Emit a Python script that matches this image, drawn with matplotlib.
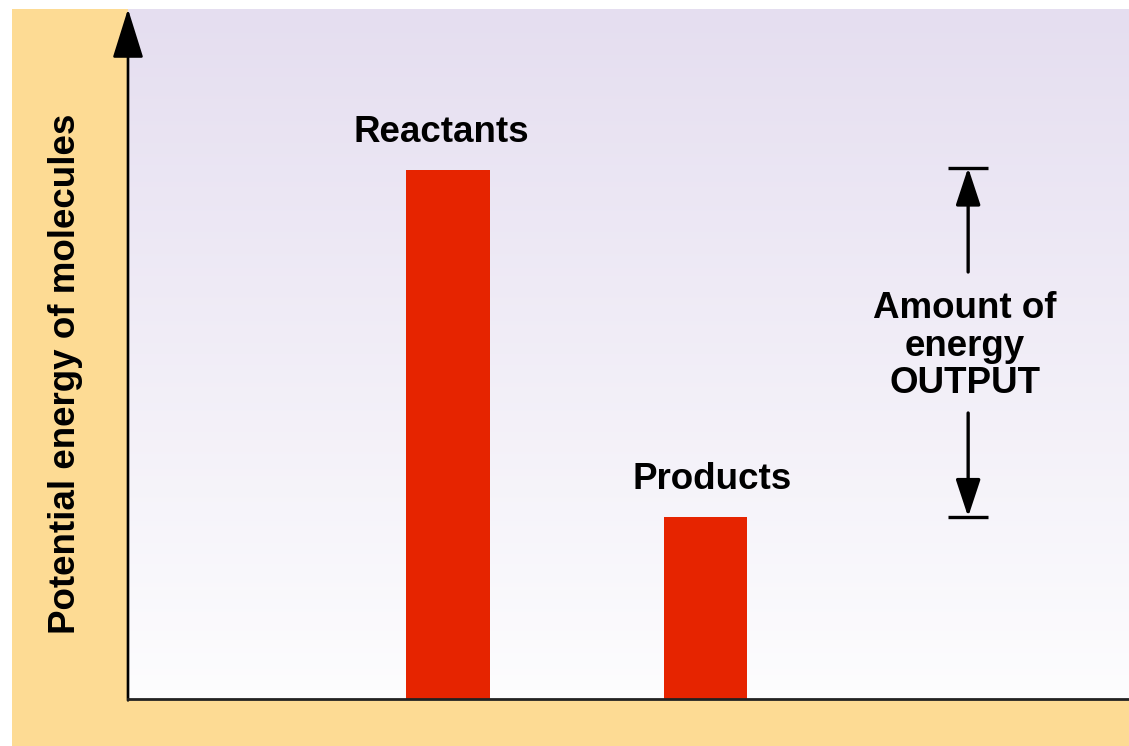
import numpy as np
import matplotlib
matplotlib.use("Agg")
import matplotlib.pyplot as plt
from matplotlib.patches import Rectangle

# ---- data ----
categories = ["Reactants", "Products"]
energies = [76.7, 26.4]
bracket_label = "Amount of\nenergy\nOUTPUT"
ylabel = "Potential energy of molecules"

W, H = 1129, 746
fig = plt.figure(figsize=(W / 100, H / 100), dpi=100)
fig.patch.set_facecolor("white")

beige = "#FDDB94"
fig.patches.append(Rectangle((12 / W, 0), (128 - 12) / W, (H - 9) / H,
                             transform=fig.transFigure, facecolor=beige,
                             edgecolor="none", zorder=-5))
fig.patches.append(Rectangle((12 / W, 0), 1 - 12 / W, (H - 699) / H,
                             transform=fig.transFigure, facecolor=beige,
                             edgecolor="none", zorder=-5))

ax = fig.add_axes([128 / W, (H - 699) / H, 1 - 128 / W, (699 - 9) / H])
ax.set_zorder(1)
ax.set_facecolor("none")

# gradient background
top = np.array([229, 222, 240]) / 255
bot = np.array([253, 253, 254]) / 255
t = np.linspace(0, 1, 256)[:, None]
grad = (top[None, :] * (1 - t) + bot[None, :] * t)[:, None, :]
ax.imshow(grad, extent=[0, 1, 0, 1], transform=ax.transAxes, aspect="auto", zorder=0)

x = [1, 2]
ax.bar(x, energies, width=0.326, color="#E62400", zorder=2)

ax.set_xlim(1 - 320 / 257.5, 1 + (1001 - 320) / 257.5)
ax.set_ylim(0, 100)
ax.set_xticks([])
ax.set_yticks([])
for s in ["top", "right", "left"]:
    ax.spines[s].set_visible(False)
ax.spines["bottom"].set_linewidth(2.0)
ax.spines["bottom"].set_color("#222222")
ax.spines["bottom"].set_zorder(3)

font = dict(family=["Liberation Sans", "DejaVu Sans"], fontweight="bold", fontsize=26.5)

label_dx = [-5, 5]  # points
for xi, e, c, dx in zip(x, energies, categories, label_dx):
    ax.annotate(c, (xi, e), xytext=(dx, 14), textcoords="offset points",
                ha="center", va="bottom", **font)

# y axis arrow
yarr = ax.annotate("", xy=(0, 1), xytext=(0, -0.002), xycoords="axes fraction",
                   arrowprops=dict(arrowstyle="-|>,head_length=3.1,head_width=0.97",
                                   mutation_scale=10, lw=1.9, color="black",
                                   shrinkA=0, shrinkB=0), annotation_clip=False)
yarr.arrow_patch.set_clip_on(False)
yarr.arrow_patch.set_zorder(4)

fig.text(66 / W, 1 - 374 / H, ylabel, rotation=90, ha="center", va="center", **font)

# energy bracket
bx = 3.02
hi, lo = energies[0] + 0.3, energies[1]
half = 20 / 257.5
ax.plot([bx - half, bx + half], [hi, hi], color="black", lw=2.4, solid_capstyle="butt", zorder=3)
ax.plot([bx - half, bx + half], [lo, lo], color="black", lw=2.4, solid_capstyle="butt", zorder=3)
aprops = dict(arrowstyle="-|>,head_length=2.3,head_width=0.76", mutation_scale=10,
              lw=2.4, color="black", shrinkA=0, shrinkB=0)
ax.annotate("", xy=(bx, hi), xytext=(bx, (699 - 272) / 6.9), arrowprops=aprops)
ax.annotate("", xy=(bx, lo), xytext=(bx, (699 - 413) / 6.9), arrowprops=aprops)
ax.text(bx - 3 / 257.5, (699 - 346) / 6.9, bracket_label, ha="center", va="center",
        linespacing=1.1, **font)

fig.savefig("out.png", dpi=100)
